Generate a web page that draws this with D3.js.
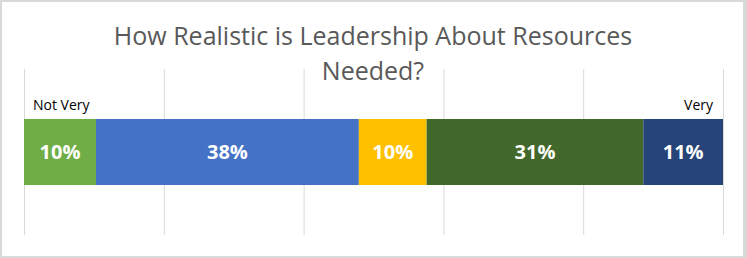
<!DOCTYPE html>
<html>
<head>
<meta charset="utf-8">
<script src="https://cdn.jsdelivr.net/npm/d3@7"></script>
<style>
  html, body { margin: 0; padding: 0; background: #fff; }
  svg { display: block; }
</style>
</head>
<body>
<svg id="chart" width="747" height="258"></svg>
<script>
const titleLines = ["How Realistic is Leadership About Resources", "Needed?"];
const categories = ["1", "2", "3", "4", "5"];
const values = [10.3, 37.6, 9.7, 31.0, 11.4];
const colors = ["#70AD47", "#4472C4", "#FFC000", "#43682B", "#264478"];
const endLabels = ["Not Very", "Very"];
const gridTicks = [0, 20, 40, 60, 80, 100];

const svg = d3.select("#chart");
const W = 747, H = 258;

// frame
svg.append("rect").attr("x", 0).attr("y", 0).attr("width", W).attr("height", H).attr("fill", "#d9d9d9");
svg.append("rect").attr("x", 2).attr("y", 2).attr("width", 741).attr("height", 254).attr("fill", "#fff");

const x = d3.scaleLinear().domain([0, 100]).range([24, 723]);
const plotTop = 69, plotBottom = 235;
const barTop = 119, barBottom = 185;

// gridlines
const grid = svg.append("g").attr("transform", `translate(0,${plotBottom})`)
  .call(d3.axisBottom(x).tickValues(gridTicks).tickSize(-(plotBottom - plotTop)).tickFormat(""));
grid.select(".domain").remove();
grid.selectAll(".tick line").attr("stroke", "#d9d9d9").attr("stroke-width", 1);

// stacked segments
let cum = 0;
const segs = values.map((v, i) => { const s = { cat: categories[i], v, x0: cum, x1: cum + v, c: colors[i] }; cum += v; return s; });

svg.append("g").selectAll("rect").data(segs).join("rect")
  .attr("x", d => x(d.x0)).attr("y", barTop)
  .attr("width", d => x(d.x1) - x(d.x0)).attr("height", barBottom - barTop)
  .attr("fill", d => d.c);

svg.append("g").selectAll("text").data(segs).join("text")
  .attr("x", d => (x(d.x0) + x(d.x1)) / 2).attr("y", (barTop + barBottom) / 2)
  .attr("dy", "0.36em")
  .attr("text-anchor", "middle")
  .attr("font-family", "'Open Sans', sans-serif").attr("font-weight", 700)
  .attr("font-size", 20).attr("fill", "#fff")
  .text(d => Math.round(d.v) + "%");

// title
svg.append("g").selectAll("text").data(titleLines).join("text")
  .attr("x", 373).attr("y", (d, i) => 45 + i * 35)
  .attr("text-anchor", "middle")
  .attr("font-family", "'Open Sans', sans-serif").attr("font-weight", 400)
  .attr("font-size", 25).attr("fill", "#595959")
  .text(d => d);

// end labels
svg.append("text").attr("x", 33).attr("y", 110)
  .attr("font-family", "'Open Sans', sans-serif").attr("font-size", 14).attr("fill", "#000")
  .text(endLabels[0]);
svg.append("text").attr("x", 713).attr("y", 110).attr("text-anchor", "end")
  .attr("font-family", "'Open Sans', sans-serif").attr("font-size", 14).attr("fill", "#000")
  .text(endLabels[1]);
</script>
</body>
</html>
